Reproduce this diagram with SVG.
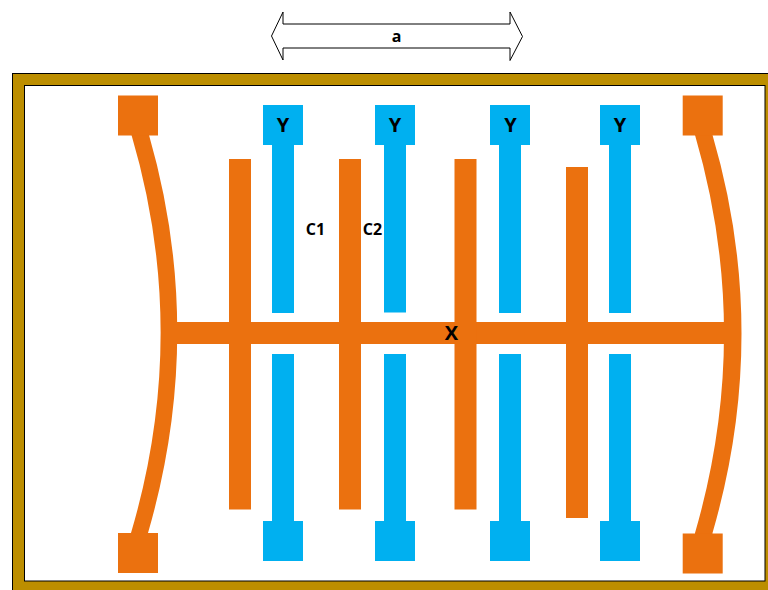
<svg xmlns="http://www.w3.org/2000/svg" width="768" height="590" viewBox="0 0 768 590">
<style>
.o{fill:#eb710f}
.b{fill:#00b0f0}
text{font-family:"Open Sans","Liberation Sans",sans-serif;font-weight:700;fill:#000;text-anchor:middle}
.y{font-size:20px}
.s{font-size:16px}
</style>
<rect width="768" height="590" fill="#fff"/>
<g id="frame">
<rect x="12.500" y="73.500" width="760" height="520" fill="#bc8e00" stroke="#000" stroke-width="1"/>
<rect x="24.500" y="85.500" width="740.500" height="495.500" fill="#fff" stroke="#000" stroke-width="1"/>
</g>
<g id="dimension">
<path d="M271.500 36L283 12V24H510V12L522.500 36.500L510 60.500V48H283V60Z" fill="#fff" stroke="#000" stroke-width="1"/>
<text class="s" x="396.500" y="41.500">a</text>
</g>
<g id="connectors">
<path class="o" d="M131.500 130V135Q190 333 131 533V538H148V533Q206 333 149 135V130Z"/>
<path class="o" d="M695 130V135Q753 333 695 533V538H712.500V533Q770.500 333 712.500 135V130Z"/>
<rect class="o" x="170" y="322" width="560" height="22"/>
</g>
<g id="electrode-x">
<rect class="o" x="118" y="95.500" width="40" height="40"/>
<rect class="o" x="118" y="533" width="40" height="40"/>
<rect class="o" x="682.700" y="95.500" width="40" height="40"/>
<rect class="o" x="682.700" y="533.500" width="40" height="40"/>
<rect class="o" x="229" y="159" width="22" height="350.500"/>
<rect class="o" x="339" y="159" width="22" height="350.500"/>
<rect class="o" x="454.500" y="159" width="22" height="350.500"/>
<rect class="o" x="566" y="167" width="22" height="351"/>
<text class="y" x="451.500" y="340">X</text>
</g>
<g id="electrode-y-top">
<rect class="b" x="263" y="105" width="40" height="40"/><rect class="b" x="272" y="145" width="22" height="168"/>
<rect class="b" x="375" y="105" width="40" height="40"/><rect class="b" x="384" y="145" width="22" height="167.500"/>
<rect class="b" x="490" y="105" width="40" height="40"/><rect class="b" x="499" y="145" width="22" height="168"/>
<rect class="b" x="600" y="105" width="40" height="40"/><rect class="b" x="609" y="145" width="22" height="168"/>
<text class="y" x="283" y="132">Y</text>
<text class="y" x="395" y="132">Y</text>
<text class="y" x="510.500" y="132">Y</text>
<text class="y" x="620" y="132">Y</text>
</g>
<g id="electrode-y-bottom">
<rect class="b" x="272" y="354" width="22" height="168"/><rect class="b" x="263" y="521" width="40" height="40"/>
<rect class="b" x="384" y="354" width="22" height="168"/><rect class="b" x="375" y="521" width="40" height="40"/>
<rect class="b" x="499" y="354" width="22" height="168"/><rect class="b" x="490" y="521" width="40" height="40"/>
<rect class="b" x="609" y="354" width="22" height="168"/><rect class="b" x="600" y="521" width="40" height="40"/>
</g>
<g id="labels">
<text class="s" x="315.500" y="234.500">C1</text>
<text class="s" x="372.500" y="234.500">C2</text>
</g>
</svg>
